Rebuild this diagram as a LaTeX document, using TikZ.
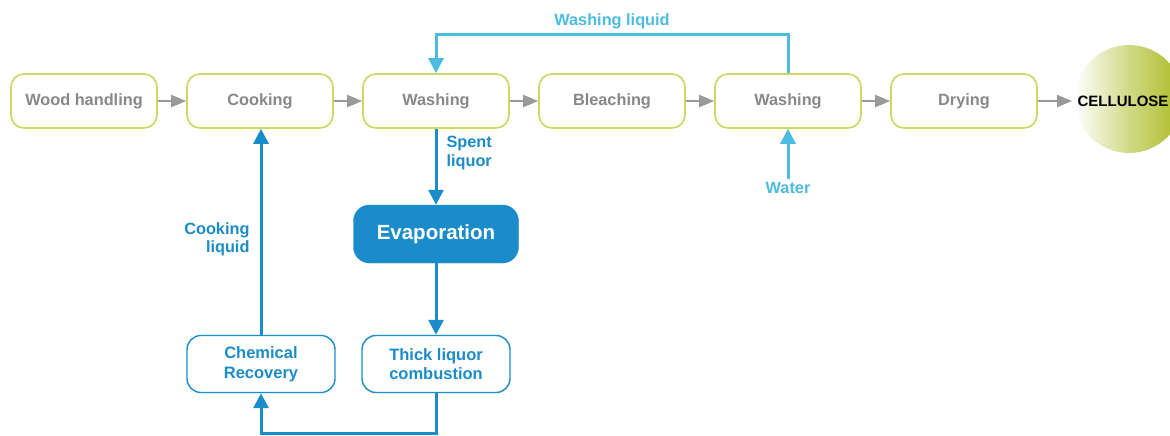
\documentclass[tikz,border=0pt]{standalone}
\usepackage{fontspec}
\setmainfont{Liberation Sans}
\usetikzlibrary{arrows.meta}
\definecolor{boxline}{HTML}{CCD862}
\definecolor{greytxt}{HTML}{888888}
\definecolor{greyarr}{HTML}{999999}
\definecolor{bluedark}{HTML}{1A8CCA}
\definecolor{bluelight}{HTML}{4CBCE0}
\definecolor{olivec}{HTML}{AABB22}
\tikzset{
  procbox/.style={draw=boxline, line width=1.6pt, rounded corners=13pt,
    minimum width=146pt, minimum height=54pt, fill=white, text=greytxt,
    font=\bfseries\fontsize{16.3}{18}\selectfont},
  bluebox/.style={draw=bluedark, line width=1.4pt, rounded corners=14pt,
    minimum width=148pt, minimum height=57pt, fill=white, text=bluedark,
    align=center, font=\bfseries\fontsize{16.5}{19.5}\selectfont},
  evapbox/.style={draw=bluedark, fill=bluedark, rounded corners=16pt,
    minimum width=165pt, minimum height=58pt, text=white,
    font=\bfseries\fontsize{20.5}{22}\selectfont},
  grayarrow/.style={draw=greyarr, line width=2pt, -{Triangle[length=15pt,width=12pt]}},
  bluearrow/.style={draw=bluedark, line width=3pt, -{Triangle[length=15pt,width=15pt]}},
  lightarrow/.style={draw=bluelight, line width=3pt, -{Triangle[length=15pt,width=15pt]}},
  bluelabel/.style={text=bluedark, font=\bfseries\fontsize{16.3}{18.5}\selectfont},
  lightlabel/.style={text=bluelight, font=\bfseries\fontsize{16.3}{18}\selectfont},
}
\begin{document}
\begin{tikzpicture}[x=1pt,y=-1pt]
\useasboundingbox (0,0) rectangle (1170,436);
\clip (0,0) rectangle (1170,436);
\fill[white] (0,0) rectangle (1170,436);

% cellulose circle
\shade[left color=white, right color=olivec, middle color=olivec!55] (1129,99) circle (54);
\node[font=\bfseries\fontsize{15}{17}\selectfont, text=black] (cell) at (1123,101) {CELLULOSE};
\coordinate (cellin) at (1072,101);

% top row
\node[procbox] (wood) at (84,101) {Wood handling};
\node[procbox] (cook) at (260,101) {Cooking};
\node[procbox] (wash1) at (436,101) {Washing};
\node[procbox] (bleach) at (612,101) {Bleaching};
\node[procbox] (wash2) at (788,101) {Washing};
\node[procbox] (dry) at (964,101) {Drying};

\draw[grayarrow] (wood) -- (cook);
\draw[grayarrow] (cook) -- (wash1);
\draw[grayarrow] (wash1) -- (bleach);
\draw[grayarrow] (bleach) -- (wash2);
\draw[grayarrow] (wash2) -- (dry);
\draw[grayarrow] (dry) -- (cellin);

% washing liquid loop
\node[lightlabel] (wlab) at (612,21) {Washing liquid};
\draw[lightarrow] (wash2.north) -- (788,35) -- (436,35) -- (wash1.north);

% water
\node[lightlabel] (water) at (788,188) {Water};
\draw[lightarrow] (water.north) -- (wash2.south);

% lower part
\node[evapbox] (evap) at (436,234) {Evaporation};
\node[bluebox] (thick) at (436,364) {Thick liquor\\combustion};
\node[bluebox] (chem) at (261,364) {Chemical\\Recovery};

\draw[bluearrow] (wash1.south) -- (evap.north);
\node[bluelabel, anchor=north west, align=left] (spent) at (443,133) {Spent\\liquor};

\draw[bluearrow] (evap.south) -- (thick.north);
\draw[bluearrow] (thick.south) -- (436,433) -- (261,433) -- (chem.south);

\draw[bluearrow] (chem.north) -- (chem.north |- cook.south);
\node[bluelabel, anchor=north east, align=right] (cliq) at (253,219) {Cooking\\liquid};
\end{tikzpicture}
\end{document}
